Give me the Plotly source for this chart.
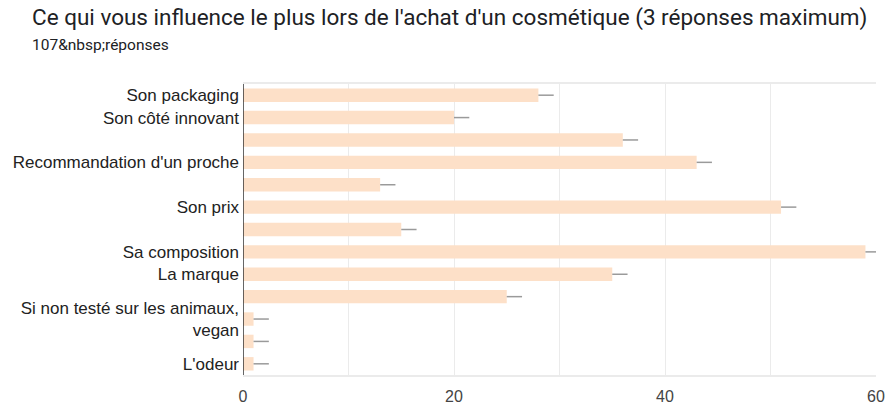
import plotly.graph_objects as go

# Survey answers, top to bottom (empty label = label not displayed on the axis)
labels = [
    "Son packaging",
    "Son côté innovant",
    "",
    "Recommandation d'un proche",
    "",
    "Son prix",
    "",
    "Sa composition",
    "La marque",
    "",
    "Si non testé sur les animaux,<br>vegan",
    "",
    "L'odeur",
]
counts = [28, 20, 36, 43, 13, 51, 15, 59, 35, 25, 1, 1, 1]
# length of the small grey stub drawn after each bar
stub = [1.45] * len(counts)

positions = list(range(len(counts)))
tick_pos = [p for p, l in zip(positions, labels) if l]
tick_txt = [l for l in labels if l]

L, R, T, B = 243, 12, 84, 32
W, H = 888, 407
PW, PH = W - L - R, H - T - B

fig = go.Figure(
    go.Bar(
        x=counts,
        y=positions,
        orientation="h",
        width=0.6,
        marker=dict(color="#FDE0C8", line=dict(width=0)),
        error_x=dict(
            type="data",
            symmetric=False,
            array=stub,
            arrayminus=[0] * len(counts),
            color="#9a9a9a",
            thickness=1.5,
            width=0,
        ),
        hoverinfo="x+y",
    )
)

fig.update_layout(
    width=W,
    height=H,
    margin=dict(l=L, r=R, t=T, b=B, autoexpand=False),
    paper_bgcolor="white",
    plot_bgcolor="white",
    showlegend=False,
    font=dict(family="Liberation Sans, Arial, sans-serif", size=14, color="#222222"),
    annotations=[
        dict(
            text="Ce qui vous influence le plus lors de l'achat d'un cosmétique (3 réponses maximum)",
            xref="paper", yref="paper", x=(30 - L) / PW, y=1 + (T - 18) / PH,
            xanchor="left", yanchor="middle", showarrow=False,
            font=dict(family="Roboto, sans-serif", size=22.5, color="#202124"),
        ),
        dict(
            text="107&amp;nbsp;réponses",
            xref="paper", yref="paper", x=(30 - L) / PW, y=1 + (T - 45) / PH,
            xanchor="left", yanchor="middle", showarrow=False,
            font=dict(family="Roboto, sans-serif", size=15.5, color="#202124"),
        ),
    ],
)

fig.update_xaxes(
    range=[0, 60],
    tickvals=[0, 20, 40, 60],
    ticktext=["0", "20", "40", "60"],
    tickfont=dict(size=16, color="#444444"),
    showgrid=True,
    gridcolor="#EBEBEB",
    gridwidth=1,
    minor=dict(dtick=10, tick0=0, showgrid=True, gridcolor="#EBEBEB", gridwidth=1),
    zeroline=False,
    showline=True,
    linecolor="#EBEBEB",
    linewidth=2,
    mirror=True,
    ticks="",
    ticklabelstandoff=6,
    automargin=False,
    fixedrange=True,
)

fig.update_yaxes(
    range=[12.5, -0.5],
    tickvals=tick_pos,
    ticktext=tick_txt,
    tickfont=dict(size=17, color="#222222"),
    showgrid=False,
    zeroline=False,
    showline=False,
    ticks="",
    ticklabelstandoff=3,
    automargin=False,
    fixedrange=True,
)

# dark vertical baseline at x = 0
fig.add_shape(
    type="line", xref="x", yref="paper", x0=0, x1=0, y0=0, y1=1,
    line=dict(color="#333333", width=1.5), layer="above",
)

fig.write_html("out.html")
